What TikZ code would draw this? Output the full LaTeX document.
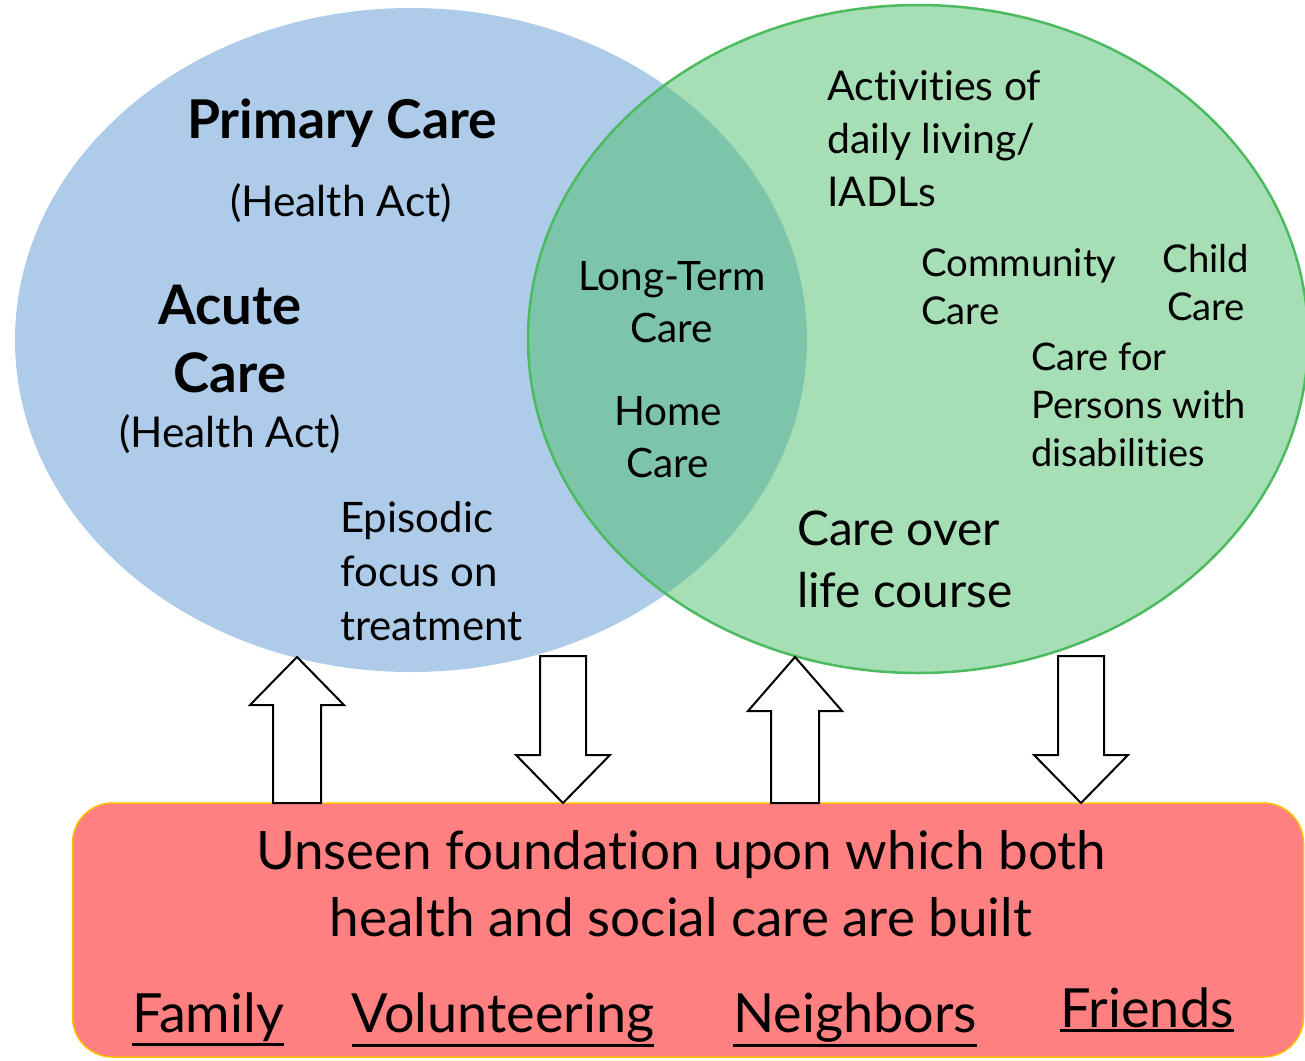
\documentclass[tikz,border=0pt]{standalone}
\usepackage{fontspec}
\setmainfont[Ligatures=NoCommon]{Lato}
\usetikzlibrary{positioning}

\definecolor{healthblue}{RGB}{174,204,234}
\definecolor{socialgreen}{RGB}{166,222,181}
\definecolor{sharedgreen}{RGB}{124,197,170}
\definecolor{socialline}{RGB}{76,187,95}
\definecolor{basered}{RGB}{255,128,128}
\definecolor{baseline}{RGB}{255,192,0}

% size and leading in one go
\newcommand\fs[2]{\fontsize{#1}{#2}\selectfont}
% thick underline that sits below the descenders
\newcommand\ulword[1]{\vtop{\hbox{#1}\kern2pt\hrule height 3pt}}

\begin{document}
\begin{tikzpicture}[x=1pt,y=-1pt,
    txt/.style={inner sep=0pt,align=left,anchor=west},
    ctxt/.style={inner sep=0pt,align=center},
    blockarrow/.style={draw=black,fill=white,line width=2pt,line join=miter}]
  \useasboundingbox (0,0) rectangle (1305,1060);

  \coordinate (health) at (411,340);
  \coordinate (social) at (918,339);

  % the two circles and their overlap
  \fill[healthblue] (health) ellipse [x radius=396,y radius=332];
  \fill[socialgreen] (social) ellipse [x radius=390,y radius=334];
  \begin{scope}
    \clip (health) ellipse [x radius=396,y radius=332];
    \fill[sharedgreen] (social) ellipse [x radius=390,y radius=334];
  \end{scope}
  \draw[socialline,line width=2.5pt] (social) ellipse [x radius=390,y radius=334];

  % foundation box
  \node[draw=baseline,fill=basered,line width=1.5pt,rounded corners=40pt,
    minimum width=1231pt,minimum height=254pt,inner sep=0pt] (base) at (688,930) {};

  % arrows between the box and the circles
  \foreach \ax/\hb in {297/705,795/711}
    \draw[blockarrow] (\ax-24,803) -- (\ax-24,\hb) -- (\ax-47,\hb) -- (\ax,657)
      -- (\ax+47,\hb) -- (\ax+24,\hb) -- (\ax+24,803) -- cycle;
  \foreach \ax in {563,1081}
    \draw[blockarrow] (\ax-23,656) -- (\ax-23,755) -- (\ax-47,755) -- (\ax,803)
      -- (\ax+47,755) -- (\ax+23,755) -- (\ax+23,656) -- cycle;

  % health side
  \node[ctxt,font=\fs{53.5}{60}\bfseries] (primary) at (342,123) {Primary Care};
  \node[ctxt,font=\fs{42.5}{50}] (primaryact) at (341,203) {(Health Act)};
  \node[ctxt,font=\fs{54.5}{68}\bfseries] (acute) at (230,339) {Acute\\Care};
  \node[ctxt,font=\fs{42.5}{50}] (acuteact) at (230,434) {(Health Act)};
  \node[txt,font=\fs{42}{54}] (episodic) at (340,571) {Episodic\\focus on\\treatment};

  % overlap
  \node[ctxt,font=\fs{40.5}{52}] (ltc) at (672,302) {Long-Term\\Care};
  \node[ctxt,font=\fs{40.5}{52}] (home) at (668,437) {Home\\Care};

  % social side
  \node[txt,font=\fs{41}{53}] (adl) at (827,139) {Activities of\\daily living/\\IADLs};
  \node[txt,font=\fs{38.3}{48}] (community) at (921,287) {Community\\Care};
  \node[ctxt,font=\fs{38.3}{48}] (child) at (1206,283) {Child\\Care};
  \node[txt,font=\fs{38}{48}] (disab) at (1031,405) {Care for\\Persons with\\disabilities};
  \node[txt,font=\fs{47.8}{62}] (lifecourse) at (797,559) {Care over\\life course};

  % foundation text
  \node[ctxt,font=\fs{53}{67}] (unseen) at (681,884)
    {Unseen foundation upon which both\\health and social care are built};
  \foreach \nm/\wx/\wy/\wrd in {family/208/1032/Family,volunteer/503/1032/Volunteering,
      neighbor/855/1032/Neighbors,friends/1147/1027/Friends}
    \node[inner sep=0pt,anchor=base,font=\fs{54}{60}] (\nm) at (\wx,\wy) {\ulword{\wrd}};
\end{tikzpicture}
\end{document}
